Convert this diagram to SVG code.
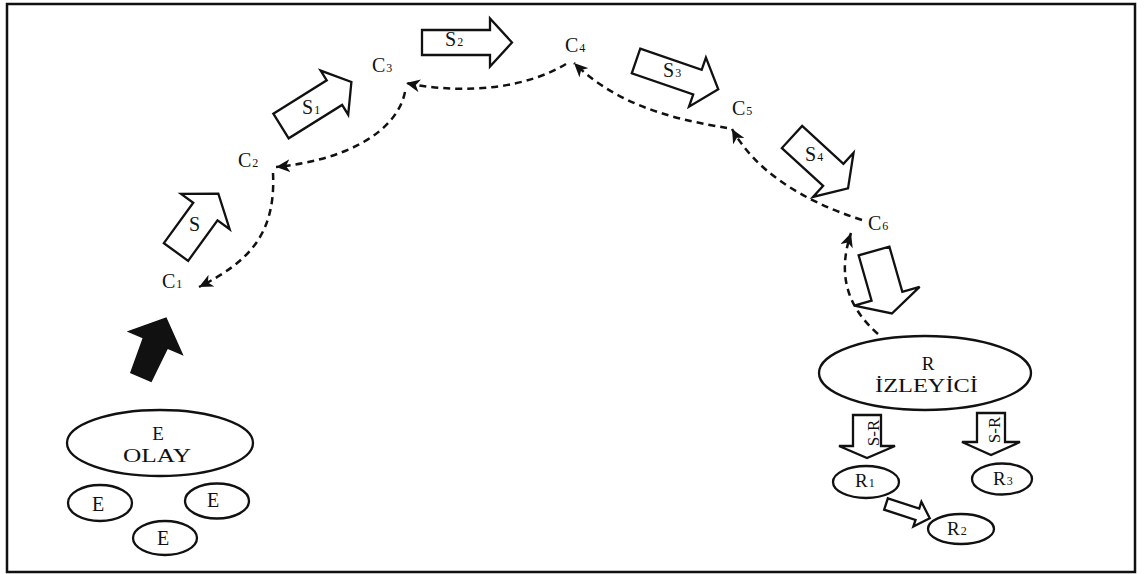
<svg xmlns="http://www.w3.org/2000/svg" width="1148" height="574" viewBox="0 0 1148 574">
<style>
text{font-family:"Liberation Serif","Times New Roman",serif;fill:#111}
.lbl{font-size:20px}
.sub{font-size:12px}
.blk{fill:#fff;stroke:#111;stroke-width:2.3;stroke-linejoin:miter}
.ell{fill:#fff;stroke:#111;stroke-width:2.3}
.dash{fill:none;stroke:#111;stroke-width:2.5;stroke-dasharray:7 5}
</style>
<defs>
<marker id="ah" markerUnits="userSpaceOnUse" markerWidth="15" markerHeight="13" refX="14" refY="6.5" orient="auto">
<path d="M0,0 L14,6.5 L0,13 L4,6.5 z" fill="#111"/>
</marker>
</defs>
<rect x="0" y="0" width="1148" height="574" fill="#fff"/>
<rect x="7" y="4" width="1128" height="568" fill="none" stroke="#111" stroke-width="2.5"/>

<g id="connectors">
<path class="dash" d="M273,173 C276,235 248,262 199,287" marker-end="url(#ah)"/>
<path class="dash" d="M405,92 C396,135 340,161 276,167" marker-end="url(#ah)"/>
<path class="dash" d="M566,64 C530,86 470,96 406,83" marker-end="url(#ah)"/>
<path class="dash" d="M727,128 C680,120 620,108 574,63" marker-end="url(#ah)"/>
<path class="dash" d="M862,220 C800,200 755,170 732,129" marker-end="url(#ah)"/>
<path class="dash" d="M878,334 C845,305 838,272 851,233" marker-end="url(#ah)"/>
</g>

<g id="flow-arrows">
<polygon id="arrow-E" points="0,-11 37,-13 37,-29 64,0 37,29 37,13 0,11" transform="translate(141,377) rotate(-67)" fill="#111" stroke="#111" stroke-width="1.5"/>
<g id="arrow-S">
<polygon class="blk" points="0,-15 50,-15 50,-30 72,0 50,30 50,15 0,15" transform="translate(176,252) rotate(-54)"/>
<text class="lbl" x="189" y="231">S</text>
</g>
<g id="arrow-S1">
<polygon class="blk" points="0,-14.5 63,-14.5 63,-26 83,0 63,26 63,14.5 0,14.5" transform="translate(281,126) rotate(-32)"/>
<text class="lbl" x="302" y="114">S<tspan class="sub" dx="1">1</tspan></text>
</g>
<g id="arrow-S2">
<polygon class="blk" points="0,-12.5 68,-12.5 68,-24 90,0 68,24 68,12.5 0,12.5" transform="translate(422,42.5)"/>
<text class="lbl" x="445" y="46">S<tspan class="sub" dx="1">2</tspan></text>
</g>
<g id="arrow-S3">
<polygon class="blk" points="0,-13 65,-13 65,-26 87,0 65,26 65,13 0,13" transform="translate(636,61) rotate(19)"/>
<text class="lbl" x="663" y="77">S<tspan class="sub" dx="1">3</tspan></text>
</g>
<g id="arrow-S4">
<polygon class="blk" points="0,-15 56,-15 56,-30 76,0 56,30 56,15 0,15" transform="translate(792,137) rotate(42.5)"/>
<text class="lbl" x="805" y="161">S<tspan class="sub" dx="1">4</tspan></text>
</g>
<g id="arrow-C6-R">
<polygon class="blk" points="0,-16 47,-16 47,-34 65,0 47,34 47,16 0,16" transform="translate(874,251) rotate(74)"/>
</g>
<g id="arrow-SR1">
<polygon class="blk" points="0,-14 31,-14 31,-28 43,0 31,28 31,14 0,14" transform="translate(867,415) rotate(90)"/>
<text font-size="17" text-anchor="middle" transform="translate(879,433) rotate(-90)">S-R</text>
</g>
<g id="arrow-SR3">
<polygon class="blk" points="0,-14 29,-14 29,-29 42,0 29,29 29,14 0,14" transform="translate(991,413) rotate(90)"/>
<text font-size="17" text-anchor="middle" transform="translate(1000,430) rotate(-90)">S-R</text>
</g>
<g id="arrow-R1-R2">
<polygon class="blk" points="0,-6 33,-6 33,-13 46,0 33,13 33,6 0,6" transform="translate(886,504) rotate(18)"/>
</g>
</g>

<g id="c1"><text class="lbl" x="162" y="288">C<tspan class="sub" dx="1">1</tspan></text></g>
<g id="c2"><text class="lbl" x="238" y="167">C<tspan class="sub" dx="1">2</tspan></text></g>
<g id="c3"><text class="lbl" x="372" y="72">C<tspan class="sub" dx="1">3</tspan></text></g>
<g id="c4"><text class="lbl" x="565" y="52">C<tspan class="sub" dx="1">4</tspan></text></g>
<g id="c5"><text class="lbl" x="732" y="115">C<tspan class="sub" dx="1">5</tspan></text></g>
<g id="c6"><text class="lbl" x="868" y="230">C<tspan class="sub" dx="1">6</tspan></text></g>

<g id="node-E-olay">
<ellipse class="ell" cx="160" cy="443" rx="93" ry="33"/>
<text font-size="19" text-anchor="middle" x="158" y="440">E</text>
<text font-size="18" x="123" y="462" textLength="68" lengthAdjust="spacingAndGlyphs">OLAY</text>
</g>
<g id="node-E1">
<ellipse class="ell" cx="100" cy="503" rx="32" ry="18"/>
<text font-size="20" text-anchor="middle" x="98" y="511">E</text>
</g>
<g id="node-E2">
<ellipse class="ell" cx="217" cy="501" rx="32" ry="17.5"/>
<text font-size="20" text-anchor="middle" x="213" y="507">E</text>
</g>
<g id="node-E3">
<ellipse class="ell" cx="165" cy="538" rx="32" ry="17"/>
<text font-size="20" text-anchor="middle" x="163" y="545">E</text>
</g>

<g id="node-R">
<ellipse class="ell" cx="925" cy="373" rx="106" ry="37"/>
<text font-size="19" text-anchor="middle" x="928" y="370">R</text>
<text font-size="18" x="875" y="392" textLength="103" lengthAdjust="spacingAndGlyphs">İZLEYİCİ</text>
</g>
<g id="node-R1">
<ellipse class="ell" cx="866" cy="482" rx="33" ry="16"/>
<text font-size="19" x="855" y="487">R<tspan class="sub" dx="1">1</tspan></text>
</g>
<g id="node-R2">
<ellipse class="ell" cx="961" cy="529" rx="33" ry="15"/>
<text font-size="19" x="947" y="535">R<tspan class="sub" dx="1">2</tspan></text>
</g>
<g id="node-R3">
<ellipse class="ell" cx="1002" cy="479" rx="30" ry="15.5"/>
<text font-size="19" x="993" y="485">R<tspan class="sub" dx="1">3</tspan></text>
</g>
</svg>
